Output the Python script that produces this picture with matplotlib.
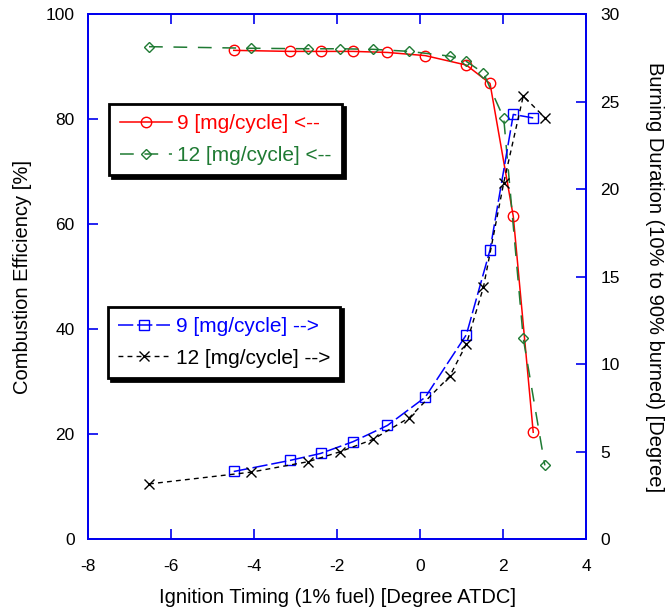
import matplotlib
matplotlib.use("Agg")
import matplotlib.pyplot as plt

plt.rcParams['font.family'] = ['Liberation Sans', 'DejaVu Sans']
plt.rcParams['axes.unicode_minus'] = False

# Combustion efficiency [%] (left axis)
x_eff9 = [-4.49, -3.14, -2.40, -1.62, -0.79, 0.12, 1.11, 1.68, 2.24, 2.72]
eff9 = [93.1, 92.9, 92.9, 92.9, 92.7, 92.1, 90.3, 86.8, 61.5, 20.4]
x_eff12 = [-6.53, -4.08, -2.70, -1.94, -1.14, -0.26, 0.71, 1.11, 1.52, 2.01, 2.48, 3.00]
eff12 = [93.8, 93.5, 93.4, 93.4, 93.3, 92.9, 92.0, 91.0, 88.8, 80.2, 38.3, 14.1]

# Burning duration [deg] (right axis)
x_bd9 = [-4.49, -3.14, -2.40, -1.62, -0.79, 0.12, 1.11, 1.68, 2.24, 2.72]
bd9 = [3.88, 4.51, 4.91, 5.58, 6.51, 8.12, 11.69, 16.53, 24.27, 24.07]
x_bd12 = [-6.53, -4.08, -2.70, -1.94, -1.14, -0.26, 0.71, 1.11, 1.52, 2.01, 2.48, 3.00]
bd12 = [3.17, 3.84, 4.44, 5.00, 5.71, 6.96, 9.32, 11.15, 14.39, 20.37, 25.32, 24.09]

labels = ['9 [mg/cycle] <--', '12 [mg/cycle] <--', '9 [mg/cycle] -->', '12 [mg/cycle] -->']

RED = '#ff0000'
GREEN = '#1f7a33'
BLUE = '#0000ff'
BLACK = '#000000'
AXBLUE = '#0000ee'

fig = plt.figure(figsize=(6.69, 6.13), dpi=100)
ax = fig.add_axes([0.1315, 0.12, 0.745, 0.857])
ax2 = ax.twinx()

l1, = ax.plot(x_eff9, eff9, color=RED, lw=1.1, marker='o', ms=7.5, mfc='none', mec=RED, mew=1.0, label=labels[0])
l2, = ax.plot(x_eff12, eff12, color=GREEN, lw=1.1, ls=(0, (9, 7)), marker='D', ms=5, mfc='none', mec=GREEN, mew=1.0, label=labels[1])
l3, = ax2.plot(x_bd9, bd9, color=BLUE, lw=1.1, ls=(0, (10, 2.5)), marker='s', ms=7, mfc='none', mec=BLUE, mew=1.0, label=labels[2])
l4, = ax2.plot(x_bd12, bd12, color=BLACK, lw=1.0, ls=(0, (3.5, 3)), marker='x', ms=7.5, mec=BLACK, mew=1.0, label=labels[3])

ax.set_xlim(-8, 4)
ax.set_ylim(0, 100)
ax2.set_ylim(0, 30)
ax.set_xticks([-8, -6, -4, -2, 0, 2, 4])
ax.set_yticks([0, 20, 40, 60, 80, 100])
ax2.set_yticks([0, 5, 10, 15, 20, 25, 30])

for a in (ax, ax2):
    for s in a.spines.values():
        s.set_color(AXBLUE)
        s.set_linewidth(1.3)
ax.tick_params(axis='both', direction='in', length=7, width=1.2, color=AXBLUE, labelsize=12.5, labelcolor='black')
ax.tick_params(axis='x', top=True, pad=14)
ax.tick_params(axis='y', left=True, right=False, pad=9.5)
ax2.tick_params(axis='y', direction='in', length=7, width=1.2, color=AXBLUE, labelsize=12.5, labelcolor='black', pad=10)

ax.set_xlabel('Ignition Timing (1% fuel) [Degree ATDC]', fontsize=14.5, labelpad=10)
ax.set_ylabel('Combustion Efficiency [%]', fontsize=14.5, labelpad=10)
ax2.set_ylabel('Burning Duration (10% to 90% burned) [Degree]', fontsize=14.5, rotation=270, labelpad=32)

shadow = {'color': 'black', 'alpha': 1.0}
leg_kw = dict(loc='upper left', borderaxespad=0, fontsize=15, handlelength=2.5, handletextpad=0.25,
              labelspacing=0.6, borderpad=0.5, fancybox=False, shadow=shadow, framealpha=1,
              edgecolor='black', labelcolor='linecolor')
leg1 = ax2.legend(handles=[l1, l2], bbox_to_anchor=(0.043, 0.829), **leg_kw)
leg1.get_frame().set_linewidth(2.0)
ax2.add_artist(leg1)
leg2 = ax2.legend(handles=[l3, l4], bbox_to_anchor=(0.04, 0.443), **leg_kw)
leg2.get_frame().set_linewidth(2.0)

fig.savefig('out.png', dpi=100)
